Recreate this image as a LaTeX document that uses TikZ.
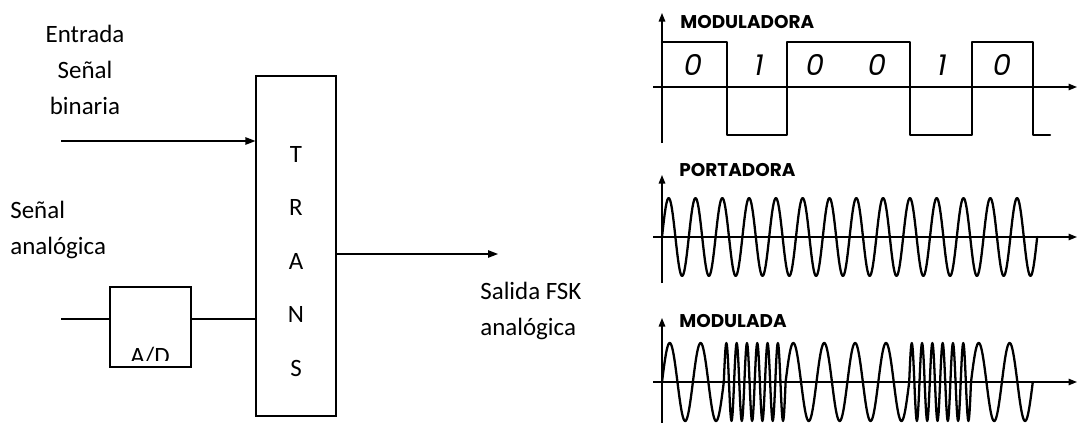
\documentclass[tikz,border=0pt]{standalone}
\usepackage{fontspec}
\setmainfont{Carlito}
\newfontfamily\graffont{Poppins}
\usetikzlibrary{arrows.meta}
\tikzset{
  box/.style={draw, line width=0.7pt, inner sep=0pt},
  conn/.style={line width=0.7pt},
  flecha/.style={conn, -{Triangle[length=0.2cm,width=0.15cm]}},
  eje/.style={line width=0.8pt, -{Triangle[length=0.17cm,width=0.13cm]}},
  onda/.style={line width=1.3pt, line join=round, line cap=round},
  txt/.style={font=\fontsize{14.2}{20.5}\selectfont, inner sep=0pt},
  rotulo/.style={font=\graffont\bfseries\fontsize{10.5}{12}\selectfont, inner sep=0pt, anchor=west},
  bit/.style={font=\graffont\itshape\fontsize{16.5}{18}\selectfont, inner sep=0pt}
}
\begin{document}
\begin{tikzpicture}[x=0.02cm,y=-0.02cm]
\useasboundingbox (0,0) rectangle (1080,423);
% bloques
\node[box, minimum width=1.6cm, minimum height=6.8cm] (trans) at (296,246) {};
\foreach \l [count=\i from 0] in {T,R,A,N,S}
  \node[txt] (l\i) at (296,{154+53.5*\i}) {\l};
\node[box, minimum width=1.62cm, minimum height=1.6cm] (ad) at (150.5,327) {};
\begin{scope}
\clip (110,287) rectangle (191,360);
\node[txt, anchor=base] (adtxt) at (150,364) {A/D};
\end{scope}
\coordinate (bin) at (61,141);
\coordinate (ana) at (61,319);
\coordinate (sal) at (498,254);
\draw[flecha] (bin) -- (bin -| trans.west);
\draw[conn] (ana) -- (ana -| ad.west);
\draw[conn] (ana -| ad.east) -- (ana -| trans.west);
\draw[flecha] (trans.east |- sal) -- (sal);
\node[txt, align=center] (entrada) at (85,70) {Entrada\\Señal\\binaria};
\node[txt, align=left, anchor=west] (analog) at (10,230) {Señal\\analógica};
\node[txt, align=left, anchor=west] (salida) at (480,311) {Salida FSK\\analógica};
% moduladora
\draw[eje] (662,143) -- (662,13);
\draw[eje] (653,87) -- (1077,87);
\node[rotulo] (tmod) at (680,22) {MODULADORA};
\draw[onda] (662,42) -| (727,135) -| (787,42) -| (910,135) -| (972,42) -| (1033,135) -- (1050,135);
\foreach \d/\x [count=\i] in {0/693,1/759,0/815,0/877,1/942,0/1002}
  \node[bit] (b\i) at (\x,65) {\d};
% portadora
\draw[eje] (662,283) -- (662,175);
\draw[eje] (653,237) -- (1077,237);
\node[rotulo] (tport) at (679,170) {PORTADORA};
\draw[onda] plot[domain=0:375.2, samples=421] ({662+\x},{237-39*sin(\x/26.8*360)});
% modulada
\draw[eje] (662,423) -- (662,318);
\draw[eje] (653,382) -- (1077,382);
\node[rotulo] (tmodu) at (679,321) {MODULADA};
\foreach \n [count=\i from 0] in {2,6,2,2,6,2}
  \draw[onda] plot[domain=0:61.8, samples=121] ({662+61.8*\i+\x},{382-39*sin(\x/61.8*360*\n)});
\end{tikzpicture}
\end{document}
